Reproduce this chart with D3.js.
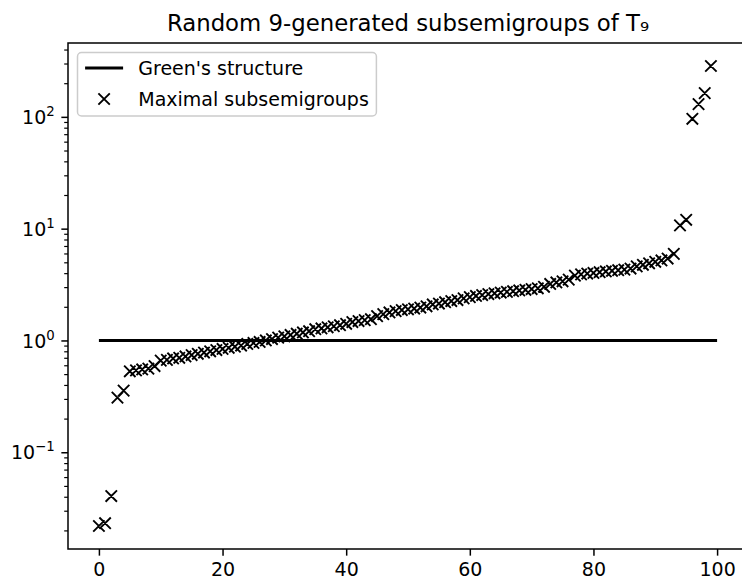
<!DOCTYPE html>
<html>
<head>
<meta charset="utf-8">
<script src="https://cdn.jsdelivr.net/npm/d3@7"></script>
<style>
  html, body { margin: 0; padding: 0; background: #fff; }
  svg { display: block; font-family: "DejaVu Sans", sans-serif; }
</style>
</head>
<body>
<svg id="chart" width="742" height="583"></svg>
<script>
// ---- data ----
const titleText = "Random 9-generated subsemigroups of T\u2089";
const seriesNames = ["Green's structure", "Maximal subsemigroups"];
const greenX = [0, 100];
const greenY = [1, 1];
const maximalValues = [
  0.0219, 0.0232, 0.0406, 0.308, 0.356, 0.53, 0.54, 0.55, 0.56, 0.59,
  0.66, 0.67, 0.69, 0.70, 0.72, 0.74, 0.76, 0.78, 0.80, 0.82,
  0.84, 0.86, 0.88, 0.90, 0.93, 0.95, 0.97, 1.00, 1.03, 1.06,
  1.09, 1.12, 1.15, 1.18, 1.21, 1.26, 1.28, 1.31, 1.34, 1.37,
  1.41, 1.46, 1.49, 1.52, 1.55, 1.65, 1.72, 1.78, 1.83, 1.87,
  1.90, 1.93, 1.97, 2.02, 2.10, 2.14, 2.20, 2.25, 2.30, 2.38,
  2.44, 2.50, 2.55, 2.60, 2.64, 2.68, 2.72, 2.76, 2.80, 2.84,
  2.88, 2.93, 3.02, 3.20, 3.30, 3.38, 3.50, 3.80, 3.90, 3.97,
  4.02, 4.08, 4.14, 4.20, 4.25, 4.30, 4.40, 4.60, 4.75, 4.90,
  5.05, 5.20, 5.40, 5.95, 10.7, 12.0, 96, 130, 163, 285
];
const xTicks = [0, 20, 40, 60, 80, 100];
const yMajorExp = [-1, 0, 1, 2];

// ---- layout ----
const fs = 19;
const L = 68, R = 748, T = 43, B = 549;
const svg = d3.select("#chart");

const points = maximalValues.map((v, i) => ({x: i, y: v}));

// x domain with 5% margins (matplotlib style)
const xmin = Math.min(d3.min(greenX), 0), xmax = Math.max(d3.max(greenX), points.length - 1);
const xm = (xmax - xmin) * 0.05;
const x = d3.scaleLinear().domain([xmin - xm, xmax + xm]).range([L, R]);

const allY = maximalValues.concat(greenY);
const lmin = Math.log10(d3.min(allY)), lmax = Math.log10(d3.max(allY));
const lm = (lmax - lmin) * 0.05;
const y = d3.scaleLog().domain([Math.pow(10, lmin - lm), Math.pow(10, lmax + lm)]).range([B, T]);

const clip = svg.append("defs").append("clipPath").attr("id", "clip")
  .append("rect").attr("x", L).attr("y", T).attr("width", R - L).attr("height", B - T);

// series
const plot = svg.append("g").attr("clip-path", "url(#clip)");
plot.append("path")
  .datum(greenX.map((d, i) => ({x: d, y: greenY[i]})))
  .attr("d", d3.line().x(d => x(d.x)).y(d => y(d.y)))
  .attr("stroke", "#000").attr("stroke-width", 2.85).attr("fill", "none");

const ms = 5.7;
function crossPath(cx, cy) {
  return `M${cx - ms},${cy - ms}L${cx + ms},${cy + ms}M${cx - ms},${cy + ms}L${cx + ms},${cy - ms}`;
}
plot.append("path")
  .attr("d", points.map(p => crossPath(x(p.x), y(p.y))).join(""))
  .attr("stroke", "#000").attr("stroke-width", 1.9).attr("fill", "none");

// axes
const tickLen = 6.65, minorLen = 3.8, pad = 6.65;
const xAxis = d3.axisBottom(x).tickValues(xTicks).tickSize(tickLen).tickPadding(pad).tickFormat(d3.format("d"));
const gx = svg.append("g").attr("transform", `translate(0,${B})`).call(xAxis);
gx.select(".domain").remove();
gx.selectAll(".tick line").attr("stroke", "#000").attr("stroke-width", 1.5);
gx.selectAll(".tick text").attr("font-size", fs).attr("font-family", "DejaVu Sans").attr("fill", "#000");

// y axis majors
const majors = yMajorExp.map(e => Math.pow(10, e));
const yAxis = d3.axisLeft(y).tickValues(majors).tickSize(tickLen).tickPadding(pad).tickFormat("");
const gy = svg.append("g").attr("transform", `translate(${L},0)`).call(yAxis);
gy.select(".domain").remove();
gy.selectAll(".tick line").attr("stroke", "#000").attr("stroke-width", 1.5);
gy.selectAll(".tick").each(function(d, i) {
  const t = d3.select(this).append("text")
    .attr("x", -(tickLen + pad)).attr("dy", "0.35em")
    .attr("text-anchor", "end").attr("font-size", fs).attr("fill", "#000")
    .attr("font-family", "DejaVu Sans");
  const e = yMajorExp[i];
  t.append("tspan").text("10");
  t.append("tspan").attr("font-size", fs * 0.7).attr("dy", -fs * 0.42)
    .text(e < 0 ? "\u2212" + Math.abs(e) : String(e));
});

// minor ticks
const [d0, d1] = y.domain();
const minors = [];
for (let e = Math.floor(Math.log10(d0)); e <= Math.ceil(Math.log10(d1)); e++) {
  for (let m = 2; m <= 9; m++) {
    const v = m * Math.pow(10, e);
    if (v >= d0 && v <= d1) minors.push(v);
  }
}
const yMinor = d3.axisLeft(y).tickValues(minors).tickSize(minorLen).tickFormat("");
const gym = svg.append("g").attr("transform", `translate(${L},0)`).call(yMinor);
gym.select(".domain").remove();
gym.selectAll(".tick line").attr("stroke", "#000").attr("stroke-width", 1.2);

// spines
svg.append("rect").attr("x", L).attr("y", T).attr("width", R - L).attr("height", B - T)
  .attr("fill", "none").attr("stroke", "#000").attr("stroke-width", 1.5);

// title
svg.append("text").attr("x", (L + R) / 2).attr("y", 31)
  .attr("text-anchor", "middle").attr("font-size", fs * 1.2).attr("fill", "#000")
  .text(titleText);

// legend
const lg = svg.append("g");
const boxL = L + 0.5 * fs, boxT = T + 0.5 * fs;
const row1 = 68, row2 = 99;
const hx0 = boxL + 0.4 * fs, hx1 = hx0 + 2 * fs, tx = hx1 + 0.8 * fs;
const lt1 = lg.append("text").attr("x", tx).attr("y", row1).attr("dy", "0.35em")
  .attr("font-size", fs).attr("fill", "#000").text(seriesNames[0]);
const lt2 = lg.append("text").attr("x", tx).attr("y", row2).attr("dy", "0.35em")
  .attr("font-size", fs).attr("fill", "#000").text(seriesNames[1]);
const tw = Math.max(lt1.node().getComputedTextLength(), lt2.node().getComputedTextLength());
lg.insert("rect", "text").attr("x", boxL).attr("y", boxT)
  .attr("width", tx + tw + 0.4 * fs - boxL).attr("height", 116 - boxT)
  .attr("rx", 4).attr("ry", 4)
  .attr("fill", "#fff").attr("fill-opacity", 0.8)
  .attr("stroke", "#cccccc").attr("stroke-width", 1.5);
lg.append("line").attr("x1", hx0).attr("x2", hx1).attr("y1", row1).attr("y2", row1)
  .attr("stroke", "#000").attr("stroke-width", 2.85);
lg.append("path").attr("d", crossPath((hx0 + hx1) / 2, row2))
  .attr("stroke", "#000").attr("stroke-width", 1.9).attr("fill", "none");
</script>
</body>
</html>
